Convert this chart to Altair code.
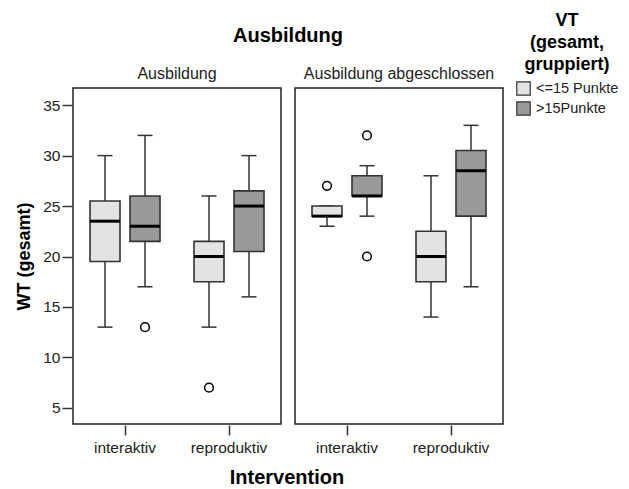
import altair as alt
import pandas as pd

ausbildung = ["Ausbildung"] * 4 + ["Ausbildung abgeschlossen"] * 4
intervention = ["interaktiv", "interaktiv", "reproduktiv", "reproduktiv"] * 2
vt = ["<=15 Punkte", ">15Punkte"] * 4
lower = [13, 17, 13, 16, 23, 24, 14, 17]
q1 = [19.5, 21.5, 17.5, 20.5, 24, 26, 17.5, 24]
median = [23.5, 23, 20, 25, 24, 26, 20, 28.5]
q3 = [25.5, 26, 21.5, 26.5, 25, 28, 22.5, 30.5]
upper = [30, 32, 26, 30, 25, 29, 28, 33]

out_ausbildung = ["Ausbildung", "Ausbildung", "Ausbildung abgeschlossen",
                  "Ausbildung abgeschlossen", "Ausbildung abgeschlossen"]
out_intervention = ["interaktiv", "reproduktiv", "interaktiv", "interaktiv", "interaktiv"]
out_vt = [">15Punkte", "<=15 Punkte", "<=15 Punkte", ">15Punkte", ">15Punkte"]
out_value = [13, 7, 27, 32, 20]

vt_domain = ["<=15 Punkte", ">15Punkte"]
vt_colors = ["#e3e3e3", "#999999"]

box = pd.DataFrame({"Ausbildung": ausbildung, "Intervention": intervention, "VT": vt,
                    "lower": lower, "q1": q1, "median": median, "q3": q3, "upper": upper,
                    "kind": "box"})
outl = pd.DataFrame({"Ausbildung": out_ausbildung, "Intervention": out_intervention,
                     "VT": out_vt, "value": out_value, "kind": "out"})
df = pd.concat([box, outl], ignore_index=True)

FONT = "Liberation Sans"

x = alt.X("Intervention:N", title=None,
          scale=alt.Scale(paddingInner=0, paddingOuter=0),
          axis=alt.Axis(labelAngle=0, labelFontSize=15.5, labelColor="#222",
                        tickSize=10, tickColor="#333", domain=False,
                        labelPadding=5, tickWidth=1.5))
xo = alt.XOffset("VT:N", scale=alt.Scale(domain=vt_domain, paddingInner=0, paddingOuter=0.3))
yscale = alt.Scale(domain=[3.4, 36.7], nice=False, zero=False)
yaxis = alt.Axis(values=[5, 10, 15, 20, 25, 30, 35], grid=False, domain=False,
                 tickSize=10, tickColor="#333", tickWidth=1.5, labelFontSize=15.5,
                 labelColor="#222", labelPadding=2, titleFontSize=18,
                 titleFontWeight="bold", titleColor="#000", titlePadding=9)

base = alt.Chart().transform_filter(alt.datum.kind == "box")

whisk = base.mark_rule(color="#333", strokeWidth=1.5).encode(
    x=x, xOffset=xo,
    y=alt.Y("lower:Q", scale=yscale, axis=yaxis, title="WT (gesamt)"),
    y2="upper:Q")
cap_lo = base.mark_tick(color="#333", size=15, thickness=1.5, opacity=1).encode(
    x=x, xOffset=xo, y="lower:Q")
cap_hi = base.mark_tick(color="#333", size=15, thickness=1.5, opacity=1).encode(
    x=x, xOffset=xo, y="upper:Q")
bars = base.mark_bar(size=30, stroke="#333", strokeWidth=1.6, opacity=1).encode(
    x=x, xOffset=xo, y="q1:Q", y2="q3:Q",
    color=alt.Color("VT:N", scale=alt.Scale(domain=vt_domain, range=vt_colors),
                    legend=alt.Legend(title=["VT", "(gesamt,", "gruppiert)"],
                                      titleFontSize=18, titleFontWeight="bold",
                                      titleColor="#000", titleAlign="center",
                                      titleAnchor="middle", labelFontSize=14.5,
                                      labelColor="#222", symbolType="square",
                                      symbolSize=180, symbolStrokeColor="#333",
                                      symbolStrokeWidth=1.2, titlePadding=7,
                                      rowPadding=1, titleLineHeight=22,
                                      symbolOpacity=1, labelOffset=5,
                                      orient="none", legendX=443, legendY=-76)))
med = base.mark_tick(color="#000", size=30, thickness=3, opacity=1).encode(
    x=x, xOffset=xo, y="median:Q")
outs = alt.Chart().transform_filter(alt.datum.kind == "out").mark_point(
    shape="circle", filled=True, fill="white", stroke="#000", strokeWidth=1.5,
    size=75, opacity=1).encode(x=x, xOffset=xo, y="value:Q")

layer = alt.layer(whisk, cap_lo, cap_hi, bars, med, outs, data=df).properties(
    width=208, height=336)

chart = layer.facet(
    column=alt.Column("Ausbildung:N",
                      header=alt.Header(title="Ausbildung", titleFontSize=20,
                                        titleFontWeight="bold", titleColor="#000",
                                        labelFontSize=16, labelColor="#222",
                                        titlePadding=10, labelPadding=5))
).properties(
    spacing=12,
    padding={"left": 7, "top": 4, "right": 0, "bottom": 0},
    title=alt.Title("Intervention", orient="bottom", anchor="middle", frame="group",
                    fontSize=20, fontWeight="bold", color="#000", offset=12, dx=214)
).configure(font=FONT, view=alt.ViewConfig(stroke="#222", strokeWidth=1.5))

chart.save("out.html", embed_options={"renderer": "svg", "actions": False})
